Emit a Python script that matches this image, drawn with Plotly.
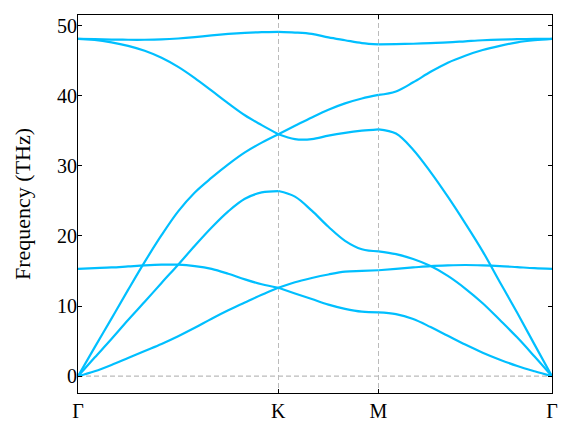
import plotly.graph_objects as go

# high-symmetry path G-K-M-G (reciprocal distance, |GK| = 1)
path_ticks = [0.0, 1.0, 1.5, 2.366]
path_labels = ["Γ", "K", "M", "Γ"]

# Γ -> K
k_gk = [0.0, 0.083, 0.167, 0.25, 0.333, 0.417, 0.5, 0.583, 0.667, 0.75, 0.833, 0.917, 1.0]
za_gk = [0.0, 0.7, 1.6, 2.6, 3.6, 4.6, 5.7, 6.9, 8.2, 9.4, 10.5, 11.6, 12.6]
ta_gk = [0.0, 2.65, 5.3, 8.0, 10.6, 13.3, 15.9, 18.6, 21.2, 23.5, 25.3, 26.2, 26.4]
la_gk = [0.0, 4.1, 8.2, 12.3, 16.3, 20.1, 23.5, 26.2, 28.3, 30.2, 31.9, 33.3, 34.5]
zo_gk = [15.3, 15.4, 15.5, 15.65, 15.8, 15.9, 15.9, 15.7, 15.3, 14.6, 13.8, 13.1, 12.6]
to_gk = [48.1, 48.05, 48.0, 47.97, 47.97, 48.02, 48.15, 48.35, 48.6, 48.8, 48.95, 49.05, 49.1]
lo_gk = [48.1, 47.95, 47.6, 47.1, 46.4, 45.4, 44.1, 42.5, 40.7, 38.9, 37.2, 35.8, 34.5]

# K -> M
k_km = [1.0, 1.083, 1.167, 1.25, 1.333, 1.417, 1.5]
za_km = [12.6, 11.8, 11.0, 10.2, 9.6, 9.2, 9.1]
zo_km = [12.6, 13.4, 14.0, 14.5, 14.9, 15.0, 15.1]
ta_km = [26.4, 25.6, 23.6, 21.3, 19.3, 18.1, 17.8]
up_km = [34.5, 35.7, 36.9, 38.0, 38.9, 39.6, 40.1]
lw_km = [34.5, 33.8, 33.8, 34.3, 34.7, 35.0, 35.2]
to_km = [49.1, 49.0, 48.8, 48.3, 47.9, 47.5, 47.3]

# M -> Γ
k_mg = [1.5, 1.587, 1.673, 1.76, 1.846, 1.933, 2.02, 2.106, 2.193, 2.279, 2.366]
za_mg = [9.1, 8.85, 8.15, 7.0, 5.75, 4.5, 3.35, 2.35, 1.45, 0.7, 0.0]
zo_mg = [15.1, 15.3, 15.5, 15.7, 15.8, 15.85, 15.8, 15.7, 15.55, 15.4, 15.3]
ta_mg = [17.8, 17.4, 16.7, 15.7, 14.3, 12.5, 10.4, 8.0, 5.5, 2.8, 0.0]
la_mg = [35.2, 34.6, 32.3, 29.1, 25.6, 21.8, 17.8, 13.4, 9.0, 4.5, 0.0]
lo_mg = [40.1, 40.6, 41.9, 43.4, 44.7, 45.7, 46.5, 47.1, 47.6, 47.9, 48.1]
to_mg = [47.3, 47.35, 47.4, 47.5, 47.6, 47.75, 47.9, 48.0, 48.05, 48.1, 48.1]

segments = [
    (k_gk, [za_gk, ta_gk, la_gk, zo_gk, to_gk, lo_gk]),
    (k_km, [za_km, zo_km, ta_km, up_km, lw_km, to_km]),
    (k_mg, [za_mg, zo_mg, ta_mg, la_mg, lo_mg, to_mg]),
]

fig = go.Figure()
for kx, bands in segments:
    for band in bands:
        fig.add_trace(go.Scatter(x=kx, y=band, mode="lines",
                                 line=dict(color="#00BFFF", width=2.2, shape="spline", smoothing=1.0),
                                 showlegend=False, hoverinfo="skip"))

fig.add_hline(y=0, line=dict(color="#bbbbbb", width=1.3, dash="5px,3px"), layer="below")

font = "Liberation Serif, DejaVu Serif, serif"
fig.update_xaxes(range=[0, 2.366], tickvals=path_ticks, ticktext=path_labels, automargin=False,
                 showgrid=True, gridcolor="#bbbbbb", gridwidth=1.3, griddash="5px,3px",
                 zeroline=False, showline=True, linecolor="black", linewidth=1, mirror="ticks",
                 ticks="inside", ticklen=4, tickcolor="black",
                 tickfont=dict(family=font, size=20, color="black"))
fig.update_yaxes(range=[-2.4, 51.5], tickvals=[0, 10, 20, 30, 40, 50], automargin=False,
                 showgrid=False, zeroline=False, showline=True, linecolor="black", linewidth=1,
                 mirror="ticks", ticks="inside", ticklen=4, tickcolor="black", ticklabelstandoff=-4,
                 tickfont=dict(family=font, size=20, color="black"),
                 title=dict(text="Frequency (THz)", font=dict(family=font, size=22, color="black"),
                            standoff=20))
# page body has an 8px margin, so the figure is a bit smaller than the window
fig.update_layout(width=567, height=427, plot_bgcolor="white", paper_bgcolor="white",
                  margin=dict(l=70, r=23, t=7, b=42))
fig.write_html("out.html")
